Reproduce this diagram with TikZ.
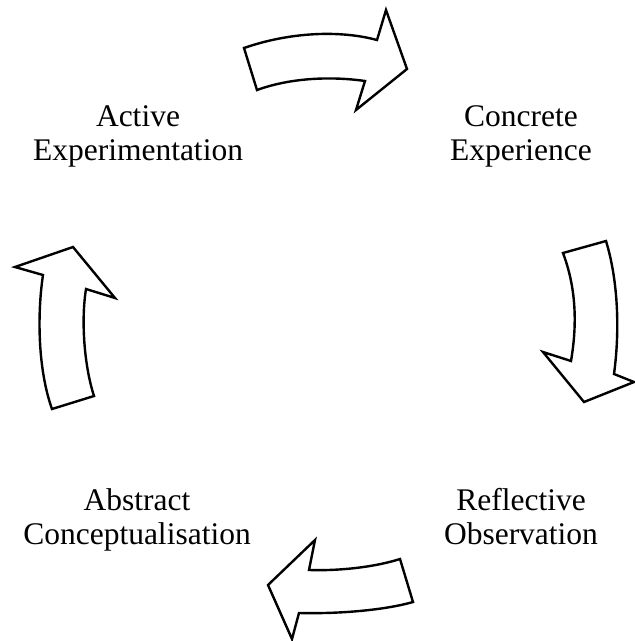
\documentclass[tikz,border=0pt]{standalone}
\usepackage{fontspec}
\setmainfont{Liberation Serif}
\begin{document}
\begin{tikzpicture}[x=1pt,y=-1pt,
  bentarrow/.style={draw=black,fill=white,line width=2.4pt,line join=miter},
  label/.style={align=center,inner sep=0pt,anchor=base,font=\fontsize{31.5}{33.5}\selectfont}]
\useasboundingbox (0,0) rectangle (635,641);
% labels (anchor at baseline of the last line)
\node[label] (ce) at (521,160) {Concrete\\Experience};
\node[label] (ro) at (521,544) {Reflective\\Observation};
\node[label] (ac) at (137,544) {Abstract\\Conceptualisation};
\node[label] (ae) at (138,160) {Active\\Experimentation};
% top arrow
\path[bentarrow] (244,48) .. controls (290,32) and (340,30) .. (377,40)
  -- (386,10) -- (407,69) -- (356,110) -- (365,81)
  .. controls (330,76) and (290,78) .. (257,90) -- cycle;
% right arrow
\path[bentarrow] (563,253) -- (606,241) .. controls (618,280) and (620,330) .. (614,374)
  -- (634,382) -- (584,402) -- (543,352) -- (571,361)
  .. controls (578,320) and (575,285) .. (563,253) -- cycle;
% bottom arrow
\path[bentarrow] (400,559) -- (413,602) .. controls (385,610) and (340,614) .. (299,613)
  -- (292,639) -- (268,585) -- (315,540) -- (309,570)
  .. controls (340,571) and (375,567) .. (400,559) -- cycle;
% left arrow
\path[bentarrow] (52,409) -- (94,396) .. controls (84,365) and (81,320) .. (86,289)
  -- (115,298) -- (73,247) -- (15,267) -- (43,275)
  .. controls (37,315) and (38,370) .. (52,409) -- cycle;
\end{tikzpicture}
\end{document}
